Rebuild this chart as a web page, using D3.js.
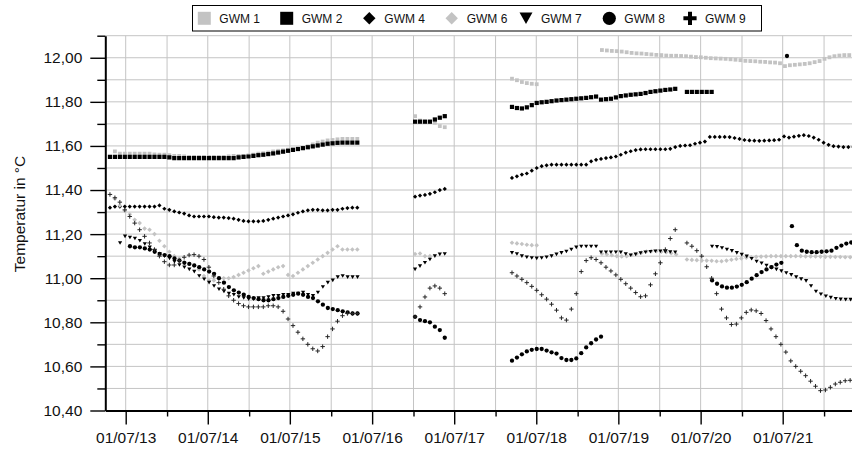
<!DOCTYPE html>
<html>
<head>
<meta charset="utf-8">
<script src="https://cdn.jsdelivr.net/npm/d3@7"></script>
<style>
  html, body { margin: 0; padding: 0; background: #fff; }
  svg { display: block; font-family: "Liberation Sans", Arial, sans-serif; }
</style>
</head>
<body>
<svg id="chart" width="852" height="449"></svg>
<script>
// Groundwater temperature readings, one value every STEP_DAYS from each run's start date.
const STEP_DAYS = 22;

const seriesNames = ["GWM 1", "GWM 2", "GWM 4", "GWM 6", "GWM 7", "GWM 8", "GWM 9"];

const gwm1 = [
  ["2013-05-14", [11.575, 11.565, 11.565, 11.565, 11.565, 11.565, 11.565, 11.565, 11.562, 11.56,
                  11.56, 11.558, 11.555, 11.555, 11.552, 11.55, 11.55, 11.55, 11.55, 11.55,
                  11.55, 11.55, 11.55, 11.552, 11.555, 11.555, 11.555, 11.557, 11.56, 11.565,
                  11.567, 11.57, 11.575, 11.578, 11.58, 11.583, 11.585, 11.588, 11.59, 11.598,
                  11.607, 11.615, 11.62, 11.625, 11.627, 11.63, 11.632, 11.632, 11.632, 11.632]],
  ["2017-01-08", [11.735, 11.715, 11.71, 11.71, 11.705, 11.69, 11.685]],
  ["2018-03-15", [11.905, 11.898, 11.89, 11.885, 11.882, 11.88]],
  ["2019-04-19", [12.035, 12.033, 12.031, 12.03, 12.028, 12.025, 12.022, 12.02, 12.019, 12.017,
                  12.015, 12.013, 12.012, 12.01, 12.009, 12.009, 12.008, 12.007, 12.005, 12.003,
                  12.002, 12.0, 11.998, 11.997, 11.996, 11.995, 11.993, 11.991, 11.989, 11.986,
                  11.985, 11.984, 11.982, 11.981, 11.979, 11.978, 11.975, 11.962, 11.966, 11.968,
                  11.97, 11.972, 11.975, 11.98, 11.985, 11.995, 12.002, 12.007, 12.01, 12.012,
                  12.012, 12.012]]
];

const gwm2 = [
  ["2013-04-22", [11.55, 11.55, 11.55, 11.55, 11.55, 11.55, 11.55, 11.55, 11.55, 11.55,
                  11.55, 11.55, 11.548, 11.545, 11.545, 11.545, 11.545, 11.545, 11.545, 11.545,
                  11.545, 11.545, 11.545, 11.545, 11.545, 11.545, 11.548, 11.55, 11.552, 11.555,
                  11.558, 11.56, 11.563, 11.566, 11.57, 11.574, 11.578, 11.582, 11.586, 11.59,
                  11.594, 11.598, 11.602, 11.606, 11.61, 11.612, 11.614, 11.615, 11.615, 11.615,
                  11.615]],
  ["2017-01-08", [11.71, 11.71, 11.71, 11.71, 11.72, 11.728, 11.735]],
  ["2018-03-15", [11.777, 11.772, 11.77, 11.775, 11.785, 11.795, 11.798, 11.8, 11.803, 11.806,
                  11.808, 11.81, 11.812, 11.814, 11.816, 11.818, 11.821, 11.824, 11.81, 11.812,
                  11.814, 11.82, 11.826, 11.829, 11.832, 11.834, 11.836, 11.84, 11.845, 11.848,
                  11.851, 11.854, 11.856, 11.859]],
  ["2020-05-01", [11.845, 11.845, 11.845, 11.845, 11.845, 11.845]]
];

const gwm4 = [
  ["2013-04-22", [11.32, 11.325, 11.325, 11.325, 11.325, 11.325, 11.325, 11.325, 11.325, 11.325,
                  11.33, 11.315, 11.31, 11.303, 11.298, 11.293, 11.285, 11.28, 11.28, 11.28,
                  11.28, 11.277, 11.275, 11.275, 11.273, 11.27, 11.265, 11.26, 11.258, 11.258,
                  11.258, 11.26, 11.265, 11.27, 11.275, 11.28, 11.285, 11.29, 11.297, 11.303,
                  11.308, 11.31, 11.31, 11.308, 11.308, 11.31, 11.31, 11.315, 11.318, 11.32,
                  11.32]],
  ["2017-01-08", [11.37, 11.375, 11.378, 11.383, 11.39, 11.4, 11.405]],
  ["2018-03-15", [11.455, 11.462, 11.47, 11.475, 11.488, 11.5, 11.508, 11.512, 11.515, 11.515,
                  11.515, 11.515, 11.515, 11.515, 11.515, 11.515, 11.53, 11.537, 11.541, 11.545,
                  11.548, 11.552, 11.56, 11.57, 11.576, 11.581, 11.584, 11.585, 11.585, 11.585,
                  11.585, 11.585, 11.587, 11.595, 11.6, 11.602, 11.603, 11.61, 11.615, 11.62,
                  11.641, 11.641, 11.641, 11.641, 11.64, 11.636, 11.632, 11.627, 11.625, 11.624,
                  11.623, 11.624, 11.625, 11.626, 11.628, 11.643, 11.638, 11.642, 11.646, 11.649,
                  11.645, 11.638, 11.628, 11.615, 11.605, 11.599, 11.597, 11.595, 11.595, 11.595]]
];

const gwm6 = [
  ["2013-05-14", [11.36, 11.33, 11.305, 11.29, 11.265, 11.25, 11.225, 11.22, 11.2, 11.17,
                  11.145, 11.12, 11.1, 11.09, 11.075, 11.065, 11.055, 11.04, 11.01, 10.99,
                  10.99, 11.0, 11.0, 11.0, 11.005, 11.015, 11.025, 11.035, 11.045, 11.055,
                  11.02, 11.03, 11.04, 11.05, 11.055, 11.015, 11.01, 11.025, 11.04, 11.055,
                  11.07, 11.085, 11.1, 11.115, 11.13, 11.145, 11.13, 11.13, 11.13, 11.13]],
  ["2017-01-08", [11.11, 11.112, 11.1, 11.1]],
  ["2018-03-15", [11.161, 11.158, 11.155, 11.152, 11.15, 11.149]],
  ["2019-04-19", [11.111, 11.108, 11.104, 11.1, 11.099, 11.1, 11.105, 11.111, 11.116, 11.121,
                  11.123, 11.122, 11.12, 11.118, 11.113, 11.108]],
  ["2020-05-01", [11.085, 11.083, 11.082, 11.08, 11.08, 11.079, 11.077, 11.077, 11.08, 11.084,
                  11.087, 11.09, 11.093, 11.095, 11.097, 11.098, 11.099, 11.1, 11.1, 11.1,
                  11.1, 11.1, 11.1, 11.1, 11.099, 11.099, 11.099, 11.098, 11.097, 11.097,
                  11.096, 11.096, 11.095, 11.095, 11.095]]
];

const gwm7 = [
  ["2013-06-06", [11.16, 11.19, 11.185, 11.18, 11.17, 11.155, 11.14, 11.125, 11.11, 11.1,
                  11.09, 11.075, 11.06, 11.05, 11.04, 11.03, 11.01, 10.995, 10.98, 10.965,
                  10.95, 10.94, 10.93, 10.925, 10.915, 10.91, 10.905, 10.905, 10.91, 10.91,
                  10.915, 10.92, 10.92, 10.925, 10.925, 10.93, 10.93, 10.935, 10.925, 10.92,
                  10.935, 10.96, 10.98, 10.99, 11.005, 11.01, 11.005, 11.005, 11.005]],
  ["2017-01-08", [11.04, 11.055, 11.07, 11.085, 11.1, 11.108, 11.11]],
  ["2018-03-15", [11.115, 11.11, 11.1, 11.095, 11.092, 11.09, 11.092, 11.095, 11.1, 11.108,
                  11.115, 11.121, 11.13, 11.14, 11.144, 11.144, 11.144, 11.144, 11.118, 11.118,
                  11.118, 11.118, 11.117, 11.11, 11.104, 11.108, 11.114, 11.118, 11.12, 11.122,
                  11.122, 11.12, 11.119, 11.118]],
  ["2020-08-21", [11.144, 11.142, 11.137, 11.13, 11.124, 11.115, 11.107, 11.099, 11.088, 11.076,
                  11.068, 11.058, 11.048, 11.04, 11.032, 11.024, 11.015, 11.005, 10.996, 10.988,
                  10.965, 10.94, 10.927, 10.918, 10.912, 10.907, 10.904, 10.903, 10.903, 10.903]]
];

const gwm8 = [
  ["2013-07-20", [11.145, 11.14, 11.14, 11.135, 11.13, 11.12, 11.11, 11.105, 11.1, 11.09,
                  11.08, 11.07, 11.065, 11.058, 11.05, 11.04, 11.03, 11.02, 11.0, 10.98,
                  10.96, 10.945, 10.935, 10.925, 10.915, 10.91, 10.905, 10.9, 10.9, 10.905,
                  10.91, 10.915, 10.92, 10.925, 10.93, 10.925, 10.915, 10.91, 10.895, 10.88,
                  10.865, 10.86, 10.855, 10.85, 10.845, 10.84, 10.84]],
  ["2017-01-08", [10.825, 10.81, 10.805, 10.8, 10.78, 10.765, 10.73]],
  ["2018-03-15", [10.626, 10.64, 10.655, 10.668, 10.675, 10.679, 10.679, 10.672, 10.664, 10.658,
                  10.638, 10.629, 10.629, 10.636, 10.66, 10.686, 10.705, 10.722, 10.735]],
  ["2020-08-21", [10.99, 10.975, 10.963, 10.957, 10.957, 10.962, 10.97, 10.982, 10.998, 11.014,
                  11.028, 11.04, 11.05, 11.062, 11.07]],
  ["2021-07-20", [12.008, 11.236, 11.15, 11.125, 11.12, 11.118, 11.118, 11.12, 11.122, 11.125,
                  11.138, 11.148, 11.157, 11.162, 11.165]]
];

const gwm9 = [
  ["2013-04-22", [11.38, 11.365, 11.345, 11.31, 11.28, 11.25, 11.22, 11.19, 11.16, 11.13,
                  11.1, 11.075, 11.06, 11.06, 11.08, 11.095, 11.105, 11.107, 11.1, 11.085,
                  11.05, 11.01, 10.98, 10.95, 10.92, 10.9, 10.885, 10.875, 10.87, 10.87,
                  10.87, 10.87, 10.875, 10.875, 10.87, 10.85, 10.815, 10.785, 10.755, 10.725,
                  10.7, 10.68, 10.67, 10.69, 10.735, 10.77, 10.805, 10.83, 10.84, 10.84,
                  10.84]],
  ["2017-01-08", [10.825, 10.87, 10.915, 10.955, 10.965, 10.955, 10.93]],
  ["2018-03-15", [11.025, 11.01, 10.995, 10.98, 10.963, 10.945, 10.925, 10.905, 10.882, 10.855,
                  10.82, 10.81, 10.86, 10.93, 11.03, 11.08, 11.093, 11.085, 11.07, 11.05,
                  11.033, 11.015, 10.995, 10.975, 10.955, 10.935, 10.916, 10.92, 10.97, 11.02,
                  11.07, 11.13, 11.18, 11.22]],
  ["2020-05-01", [11.16, 11.145, 11.125, 11.1, 11.052, 11.0, 10.93, 10.86, 10.82, 10.79,
                  10.792, 10.82, 10.845, 10.856, 10.852, 10.84, 10.808, 10.77, 10.735, 10.7,
                  10.665, 10.625, 10.6, 10.578, 10.558, 10.533, 10.51, 10.49, 10.493, 10.505,
                  10.52, 10.528, 10.535, 10.537, 10.537]]
];

// Axis ticks
const yTickValues = [10.4, 10.6, 10.8, 11.0, 11.2, 11.4, 11.6, 11.8, 12.0];
const yMinorValues = [10.5, 10.7, 10.9, 11.1, 11.3, 11.5, 11.7, 11.9, 12.1];
const xTickDates = ["2013-07-01", "2014-07-01", "2015-07-01", "2016-07-01", "2017-07-01",
                    "2018-07-01", "2019-07-01", "2020-07-01", "2021-07-01"];

// ---------------------------------------------------------------------------
const svg = d3.select("#chart");
const GRAY = "#c3c3c3";
const plot = { left: 105.3, right: 852, top: 35.7, bottom: 410.5 };

const parse = d3.utcParse("%Y-%m-%d");
const x = d3.scaleUtc()
  .domain([parse("2013-07-01"), parse("2021-07-01")])
  .range([125.7, 782.7]);
const xFull = x.copy()
  .domain([x.invert(plot.left), x.invert(plot.right)])
  .range([plot.left, plot.right]);
const y = d3.scaleLinear().domain([10.4, 12.1]).range([plot.bottom, plot.top]);

const de = d3.formatLocale({ decimal: ",", thousands: ".", grouping: [3], currency: ["", " €"] });
const fmtY = de.format(".2f");

// Grid
const grid = svg.append("g").attr("stroke", "#c4c4c4").attr("stroke-width", 1);
const halfYears = d3.utcMonth.every(6).range(xFull.domain()[0], xFull.domain()[1]);
grid.selectAll("line.v").data(halfYears).join("line")
  .attr("x1", d => x(d)).attr("x2", d => x(d))
  .attr("y1", plot.top).attr("y2", plot.bottom);
grid.selectAll("line.h").data(yTickValues.concat(yMinorValues).filter(v => v > 10.4)).join("line")
  .attr("x1", plot.left).attr("x2", plot.right)
  .attr("y1", d => y(d)).attr("y2", d => y(d));

// Series
function toPoints(pieces) {
  const pts = [];
  pieces.forEach(([start, values]) => {
    const t0 = parse(start);
    values.forEach((v, i) => pts.push({ date: d3.utcDay.offset(t0, i * STEP_DAYS), value: v }));
  });
  return pts;
}

const markers = {
  square: s => `M${-s / 2},${-s / 2}h${s}v${s}h${-s}Z`,
  diamond: r => `M0,${-r}L${r},0L0,${r}L${-r},0Z`,
  triangle: (w, h) => `M${-w / 2},${-h / 2}L${w / 2},${-h / 2}L0,${h / 2}Z`,
  plus: r => `M${-r},0H${r}M0,${-r}V${r}`
};

const seriesStyle = [
  { data: gwm1, path: markers.square(3.8), fill: GRAY },
  { data: gwm2, path: markers.square(4.2), fill: "#000" },
  { data: gwm4, path: markers.diamond(2.1), fill: "#000" },
  { data: gwm6, path: markers.diamond(2.3), fill: GRAY },
  { data: gwm7, path: markers.triangle(4.2, 3.6), fill: "#000" },
  { data: gwm8, circle: 2.15, fill: "#000" },
  { data: gwm9, path: markers.plus(2.2), stroke: "#262626" }
];

svg.append("clipPath").attr("id", "plotclip")
  .append("rect").attr("x", plot.left).attr("y", 0)
  .attr("width", plot.right - plot.left).attr("height", plot.bottom + 4);

const marks = svg.append("g").attr("clip-path", "url(#plotclip)");
seriesStyle.forEach((s, idx) => {
  const g = marks.append("g").attr("class", "series").attr("data-name", seriesNames[idx]);
  const pts = toPoints(s.data);
  if (s.circle) {
    g.selectAll("circle").data(pts).join("circle")
      .attr("cx", d => x(d.date)).attr("cy", d => y(d.value))
      .attr("r", s.circle).attr("fill", s.fill);
  } else {
    g.selectAll("path").data(pts).join("path")
      .attr("transform", d => `translate(${x(d.date)},${y(d.value)})`)
      .attr("d", s.path)
      .attr("fill", s.fill || "none")
      .attr("stroke", s.stroke || "none")
      .attr("stroke-width", s.stroke ? 1 : 0);
  }
});

// Y axis
const yAxis = svg.append("g").attr("transform", `translate(${plot.left},0)`)
  .call(d3.axisLeft(y).tickValues(yTickValues).tickSize(15).tickSizeOuter(0)
    .tickPadding(8).tickFormat(fmtY));
yAxis.select(".domain").attr("stroke", "#000").attr("stroke-width", 2);
yAxis.selectAll(".tick line").attr("stroke", "#000").attr("stroke-width", 1.4);
yAxis.selectAll("text").attr("font-family", "Liberation Sans, Arial, sans-serif")
  .attr("font-size", 15.5).attr("fill", "#111");

const yMinor = svg.append("g").attr("transform", `translate(${plot.left},0)`)
  .call(d3.axisLeft(y).tickValues(yMinorValues).tickSize(8).tickFormat(""));
yMinor.select(".domain").remove();
yMinor.selectAll(".tick line").attr("stroke", "#000").attr("stroke-width", 1.4);

// X axis
const xAxis = svg.append("g").attr("transform", `translate(0,${plot.bottom})`)
  .call(d3.axisBottom(xFull).tickValues(xTickDates.map(parse)).tickSize(14).tickSizeOuter(0)
    .tickPadding(7).tickFormat(d3.utcFormat("%d/%m/%y")));
xAxis.select(".domain").attr("stroke", "#000").attr("stroke-width", 2);
xAxis.selectAll(".tick line").attr("stroke", "#000").attr("stroke-width", 1.4);
xAxis.selectAll("text").attr("font-family", "Liberation Sans, Arial, sans-serif")
  .attr("font-size", 15.5).attr("fill", "#111");

const xMinor = svg.append("g").attr("transform", `translate(0,${plot.bottom})`)
  .call(d3.axisBottom(xFull).tickValues(halfYears.filter(d => d.getUTCMonth() === 0))
    .tickSize(6).tickFormat(""));
xMinor.select(".domain").remove();
xMinor.selectAll(".tick line").attr("stroke", "#000").attr("stroke-width", 1.4);

// Axis title
svg.append("text")
  .attr("transform", "translate(25,214) rotate(-90)")
  .attr("text-anchor", "middle")
  .attr("font-size", 15.5).attr("fill", "#111")
  .text("Temperatur in °C");

// Legend
const legend = svg.append("g").attr("class", "legend");
legend.append("rect")
  .attr("x", 192.5).attr("y", 5.5).attr("width", 569).attr("height", 25.5)
  .attr("fill", "#fff").attr("stroke", "#000").attr("stroke-width", 1);

const legendTextX = [219.3, 301.7, 384.3, 466.7, 541, 624.3, 705];
const legendSymbols = [
  { path: markers.square(13), fill: GRAY },
  { path: markers.square(13), fill: "#000" },
  { path: markers.diamond(6.2), fill: "#000" },
  { path: markers.diamond(6.2), fill: GRAY },
  { path: markers.triangle(13, 11.5), fill: "#000" },
  { circle: 6.6, fill: "#000" },
  { path: "M-6.6,-2H6.6V2H-6.6Z M-2,-6.6H2V6.6H-2Z", fill: "#000" }
];
seriesNames.forEach((name, i) => {
  const cx = legendTextX[i] - 15, cy = 18.3;
  const sym = legendSymbols[i];
  if (sym.circle) {
    legend.append("circle").attr("cx", cx).attr("cy", cy).attr("r", sym.circle).attr("fill", sym.fill);
  } else {
    legend.append("path").attr("transform", `translate(${cx},${cy})`)
      .attr("d", sym.path).attr("fill", sym.fill);
  }
  legend.append("text").attr("x", legendTextX[i]).attr("y", 23.2)
    .attr("font-size", 12).attr("fill", "#111").text(name);
});
</script>
</body>
</html>
